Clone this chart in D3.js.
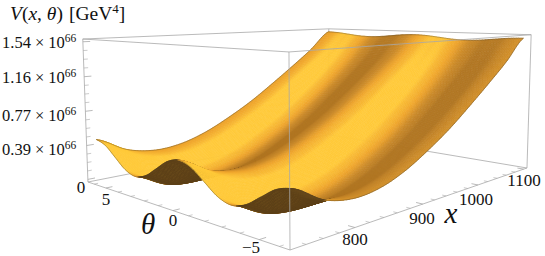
<!DOCTYPE html>
<html>
<head>
<meta charset="utf-8">
<script src="https://cdn.jsdelivr.net/npm/d3@7"></script>
<style>
  html, body { margin: 0; padding: 0; background: #fff; }
  svg { display: block; }
  text { font-family: "Liberation Serif", serif; fill: #111; }
</style>
</head>
<body>
<svg id="chart" width="545" height="256"></svg>
<script>
// values, V in units of 10^66 GeV^4
var xNodes = [730, 767, 804, 841, 878, 915, 952, 989, 1026, 1063, 1100];
var thetaNodes = [-6.283, -5.498, -4.712, -3.927, -3.142, -2.356, -1.571, -0.785, 0, 0.785, 1.571, 2.356, 3.142, 3.927, 4.712, 5.498, 6.283];
var potentialRows = [
  [0.45, 0.408, 0.305, 0.202, 0.16, 0.202, 0.305, 0.408, 0.45, 0.408, 0.305, 0.202, 0.16, 0.202, 0.305, 0.408, 0.45],
  [0.28, 0.241, 0.145, 0.049, 0.01, 0.049, 0.145, 0.241, 0.28, 0.241, 0.145, 0.049, 0.01, 0.049, 0.145, 0.241, 0.28],
  [0.215, 0.184, 0.108, 0.031, 0, 0.031, 0.108, 0.184, 0.215, 0.184, 0.108, 0.031, 0, 0.031, 0.108, 0.184, 0.215],
  [0.24, 0.21, 0.138, 0.065, 0.035, 0.065, 0.138, 0.21, 0.24, 0.21, 0.138, 0.065, 0.035, 0.065, 0.138, 0.21, 0.24],
  [0.335, 0.305, 0.233, 0.16, 0.13, 0.16, 0.233, 0.305, 0.335, 0.305, 0.233, 0.16, 0.13, 0.16, 0.233, 0.305, 0.335],
  [0.48, 0.451, 0.38, 0.309, 0.28, 0.309, 0.38, 0.451, 0.48, 0.451, 0.38, 0.309, 0.28, 0.309, 0.38, 0.451, 0.48],
  [0.65, 0.622, 0.555, 0.488, 0.46, 0.488, 0.555, 0.622, 0.65, 0.622, 0.555, 0.488, 0.46, 0.488, 0.555, 0.622, 0.65],
  [0.85, 0.825, 0.765, 0.705, 0.68, 0.705, 0.765, 0.825, 0.85, 0.825, 0.765, 0.705, 0.68, 0.705, 0.765, 0.825, 0.85],
  [1.06, 1.04, 0.99, 0.94, 0.92, 0.94, 0.99, 1.04, 1.06, 1.04, 0.99, 0.94, 0.92, 0.94, 0.99, 1.04, 1.06],
  [1.28, 1.267, 1.235, 1.203, 1.19, 1.203, 1.235, 1.267, 1.28, 1.267, 1.235, 1.203, 1.19, 1.203, 1.235, 1.267, 1.28],
  [1.53, 1.523, 1.506, 1.489, 1.482, 1.489, 1.506, 1.523, 1.53, 1.523, 1.506, 1.489, 1.482, 1.489, 1.506, 1.523, 1.53]
];
var xTicks = [800, 900, 1000, 1100];
var thetaTicks = [-5, 0, 5];
var zTicks = [0, 0.39, 0.77, 1.16, 1.54];
var zTickLabels = ['0', '0.39', '0.77', '1.16', '1.54'];

var svg = d3.select('#chart');

// box coordinates 0..1 on each axis
var xScale = d3.scaleLinear().domain([722, 1108]).range([0, 1]);
var thetaScale = d3.scaleLinear().domain([-6.5, 6.55]).range([0, 1]);
var zScale = d3.scaleLinear().domain([-0.03, 1.57]).range([0, 1]);

// perspective of the box: front bottom corner and the far end of every edge leaving it
var cam = {
  o: [290, 250],
  ex: [495.2, 0.3], wx: 0.49,
  et: [-167.9, 2.6], wt: 0.388,
  ez: [-9.7, -199.6], wz: -0.03
};

function boxToScreen(u, v, w) {
  var d = 1 + cam.wx * u + cam.wt * v + cam.wz * w;
  return [
    (cam.o[0] + cam.ex[0] * u + cam.et[0] * v + cam.ez[0] * w) / d,
    (cam.o[1] + cam.ex[1] * u + cam.et[1] * v + cam.ez[1] * w) / d
  ];
}

function catmull(p0, p1, p2, p3, t) {
  return 0.5 * (2 * p1 + (p2 - p0) * t + (2 * p0 - 5 * p1 + 4 * p2 - p3) * t * t + (3 * p1 - p0 - 3 * p2 + p3) * t * t * t);
}

function pick(arr, i) {
  return arr[Math.max(0, Math.min(arr.length - 1, i))];
}

// smooth reading of the table, s runs over rows and t over columns
function surfaceAt(s, t) {
  var i = Math.min(Math.floor(s), xNodes.length - 2), j = Math.min(Math.floor(t), thetaNodes.length - 2);
  var fs = s - i, ft = t - j, col = [];
  for (var k = -1; k <= 2; k++) {
    var row = pick(potentialRows, i + k);
    col.push(catmull(pick(row, j - 1), pick(row, j), pick(row, j + 1), pick(row, j + 2), ft));
  }
  return catmull(col[0], col[1], col[2], col[3], fs);
}

var line = d3.line();

var backEdges = [
  [[0, 1, 0], [1, 1, 0]], [[1, 1, 0], [1, 0, 0]], [[1, 1, 0], [1, 1, 1]],
  [[0, 1, 1], [1, 1, 1]], [[1, 1, 1], [1, 0, 1]]
];
var frontEdges = [
  [[0, 0, 0], [0, 1, 0]], [[0, 0, 0], [1, 0, 0]], [[0, 1, 0], [0, 1, 1]],
  [[0, 0, 0], [0, 0, 1]], [[1, 0, 0], [1, 0, 1]],
  [[0, 1, 1], [0, 0, 1]], [[0, 0, 1], [1, 0, 1]]
];

function drawEdges(edges, cls) {
  svg.append('g').attr('class', cls)
    .selectAll('path').data(edges).enter().append('path')
    .attr('d', function(e) { return line(e.map(function(p) { return boxToScreen(p[0], p[1], p[2]); })); })
    .attr('fill', 'none').attr('stroke', '#a8a8a8').attr('stroke-width', 0.8);
}

drawEdges(backEdges, 'back-box');

// surface mesh, far corner first so that near cells paint over it
var nx = 96, nt = 144;
var grid = [];
for (var i = 0; i <= nx; i++) {
  grid[i] = [];
  for (var j = 0; j <= nt; j++) {
    var s = i / nx * (xNodes.length - 1), t = j / nt * (thetaNodes.length - 1);
    var x = xNodes[0] + (xNodes[xNodes.length - 1] - xNodes[0]) * i / nx;
    var th = thetaNodes[0] + (thetaNodes[thetaNodes.length - 1] - thetaNodes[0]) * j / nt;
    var u = xScale(x), v = thetaScale(th), w = zScale(surfaceAt(s, t));
    grid[i][j] = { u: u, v: v, w: w, p: boxToScreen(u, v, w) };
  }
}

var topColor = d3.scaleLinear()
  .domain([-0.9, -0.3, 0.3, 0.9])
  .range(['#b07522', '#cb8a29', '#efa52c', '#ffc939'])
  .clamp(true);
var underColor = d3.scaleLinear()
  .domain([-1, 1])
  .range(['#5c4018', '#7d5822'])
  .clamp(true);

var cells = [];
for (i = nx - 1; i >= 0; i--) {
  var rowW = grid[i].map(function(g) { return g.w; });
  var amp = d3.max(rowW) - d3.min(rowW);
  for (j = nt - 1; j >= 0; j--) {
    var a = grid[i][j], b = grid[i + 1][j], c = grid[i + 1][j + 1], e = grid[i][j + 1];
    var gv = ((e.w + c.w) - (a.w + b.w)) / 2 / (e.v - a.v);
    var gu = ((b.w + c.w) - (a.w + e.w)) / 2 / (b.u - a.u);
    var shade = gv / (0.08 + amp * 5.5) + 0.4 * Math.max(0, -gu);
    var cross = (c.p[0] - a.p[0]) * (e.p[1] - b.p[1]) - (c.p[1] - a.p[1]) * (e.p[0] - b.p[0]);
    cells.push({
      pts: [a.p, b.p, c.p, e.p],
      fill: cross < 0 ? topColor(shade) : underColor(gv / 0.6)
    });
  }
}

svg.append('g').attr('class', 'surface')
  .selectAll('path').data(cells).enter().append('path')
  .attr('d', function(d) { return line(d.pts) + 'Z'; })
  .attr('fill', function(d) { return d.fill; })
  .attr('stroke', function(d) { return d.fill; })
  .attr('stroke-width', 0.6);

// thin line around the sheet
var rim = [];
for (i = 0; i <= nx; i++) rim.push(grid[i][0].p);
for (j = 0; j <= nt; j++) rim.push(grid[nx][j].p);
for (i = nx; i >= 0; i--) rim.push(grid[i][nt].p);
for (j = nt; j >= 0; j--) rim.push(grid[0][j].p);
svg.append('path').attr('d', line(rim) + 'Z')
  .attr('fill', 'none').attr('stroke', '#4a3a22').attr('stroke-opacity', 0.6).attr('stroke-width', 0.6);

drawEdges(frontEdges, 'front-box');

// ticks
function drawTick(from, to, major) {
  svg.append('path').attr('d', line([from, to]))
    .attr('stroke', '#a8a8a8').attr('stroke-width', major ? 0.8 : 0.6).attr('fill', 'none');
}
d3.range(-6, 7).forEach(function(d) {
  var major = thetaTicks.indexOf(d) >= 0;
  var v = thetaScale(d);
  drawTick(boxToScreen(0, v, 0), boxToScreen(major ? 0.02 : 0.012, v, 0), major);
});
d3.range(740, 1101, 20).forEach(function(d) {
  var major = xTicks.indexOf(d) >= 0;
  var u = xScale(d);
  drawTick(boxToScreen(u, 0, 0), boxToScreen(u, major ? 0.025 : 0.015, 0), major);
});
d3.range(0, 17).forEach(function(k) {
  var w = zScale(k * 1.54 / 16);
  var major = k % 4 === 0;
  drawTick(boxToScreen(0, 1, w), boxToScreen(major ? 0.022 : 0.013, 1, w), major);
});

// labels
var zPos = [187, 149, 115, 77, 42];
zTicks.forEach(function(d, k) {
  if (d === 0) {
    svg.append('text').attr('x', 81).attr('y', 193).attr('text-anchor', 'middle').attr('font-size', 17).text('0');
    return;
  }
  var t = svg.append('text').attr('x', 2).attr('y', zPos[k] + 6).attr('font-size', 16.5);
  t.append('tspan').text(zTickLabels[k]);
  t.append('tspan').attr('dx', 4).text('×');
  t.append('tspan').attr('dx', 4).text('10');
  t.append('tspan').attr('dy', -6.5).attr('font-size', 11.5).text('66');
});

var axisLabels = [
  { text: '5', x: 106, y: 205 }, { text: '0', x: 173, y: 226 }, { text: '−5', x: 251, y: 253 },
  { text: '800', x: 355, y: 245 }, { text: '900', x: 422, y: 224 }, { text: '1000', x: 476, y: 205 }, { text: '1100', x: 524, y: 186 }
];
svg.append('g').selectAll('text').data(axisLabels).enter().append('text')
  .attr('x', function(d) { return d.x; }).attr('y', function(d) { return d.y; })
  .attr('text-anchor', 'middle').attr('font-size', 17)
  .text(function(d) { return d.text; });

svg.append('text').attr('x', 148).attr('y', 234).attr('text-anchor', 'middle')
  .attr('font-size', 29).attr('font-style', 'italic').text('θ');
svg.append('text').attr('x', 451).attr('y', 223).attr('text-anchor', 'middle')
  .attr('font-size', 29).attr('font-style', 'italic').text('x');

var title = svg.append('text').attr('x', 10).attr('y', 20).attr('font-size', 19.5);
title.append('tspan').attr('font-style', 'italic').text('V');
title.append('tspan').text('(');
title.append('tspan').attr('font-style', 'italic').text('x');
title.append('tspan').text(', ');
title.append('tspan').attr('font-style', 'italic').text('θ');
title.append('tspan').text(')');
title.append('tspan').attr('dx', 6).text('[GeV');
title.append('tspan').attr('dy', -7).attr('font-size', 13).text('4');
title.append('tspan').attr('dy', 7).text(']');
</script>
</body>
</html>
